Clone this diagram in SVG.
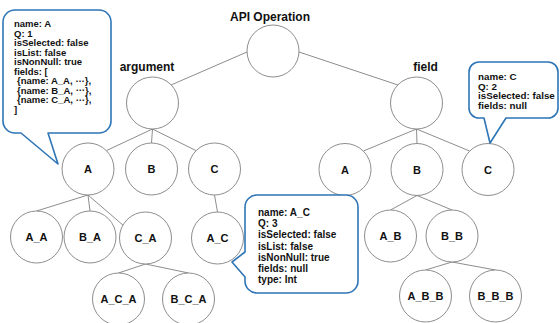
<svg xmlns="http://www.w3.org/2000/svg" width="560" height="323" viewBox="0 0 560 323">
<style>
.bg{fill:#ffffff}
.node circle{fill:#ffffff;stroke:#808080;stroke-width:0.9}
.node text{font-family:"Liberation Sans",Arial,sans-serif;font-weight:bold;font-size:11px;fill:#111;text-anchor:middle}
.title{font-family:"Liberation Sans",Arial,sans-serif;font-weight:bold;font-size:12px;fill:#111;text-anchor:middle}
#connectors line{stroke:#808080;stroke-width:0.9}
.callout path{fill:#ffffff;stroke:#2E75B6;stroke-width:1.6;stroke-linejoin:round}
.callout text{font-family:"Liberation Sans",Arial,sans-serif;font-weight:bold;font-size:9.5px;fill:#111}
#callout-A_C text{font-size:10px}
#callout-C text{font-size:9.8px}
</style>
<rect class="bg" x="0" y="0" width="560" height="323"/>

<g id="connectors">
<line x1="247" y1="52" x2="171" y2="85"/>
<line x1="299" y1="52" x2="398" y2="85"/>
<line x1="152.5" y1="129" x2="106.4" y2="150.6"/>
<line x1="152.5" y1="129" x2="151.5" y2="143"/>
<line x1="152.5" y1="129" x2="196" y2="150.6"/>
<line x1="416.5" y1="129" x2="363.4" y2="151"/>
<line x1="416.5" y1="129" x2="417" y2="143.5"/>
<line x1="416.5" y1="129" x2="469.6" y2="151"/>
<line x1="88" y1="195" x2="36.5" y2="211"/>
<line x1="88" y1="195" x2="90" y2="211"/>
<line x1="88" y1="195" x2="124" y2="226"/>
<line x1="214.5" y1="195" x2="217.5" y2="212"/>
<line x1="145.5" y1="264" x2="118.5" y2="273"/>
<line x1="145.5" y1="264" x2="188.5" y2="273"/>
<line x1="417" y1="195.5" x2="390.5" y2="210"/>
<line x1="417" y1="195.5" x2="452" y2="210"/>
<line x1="452" y1="262" x2="425.5" y2="270"/>
<line x1="452" y1="262" x2="495.5" y2="270"/>
</g>

<text class="title" x="270" y="21">API Operation</text>
<text class="title" x="147" y="71">argument</text>
<text class="title" x="425.5" y="71">field</text>

<g id="root" class="node"><circle cx="273" cy="51" r="26"/></g>
<g id="argument" class="node"><circle cx="152.5" cy="103" r="26"/></g>
<g id="field" class="node"><circle cx="416.5" cy="103" r="26"/></g>
<g id="arg-A" class="node"><circle cx="88" cy="169" r="26"/><text x="88" y="173">A</text></g>
<g id="arg-B" class="node"><circle cx="151.5" cy="169" r="26"/><text x="151.5" y="173">B</text></g>
<g id="arg-C" class="node"><circle cx="214.5" cy="169" r="26"/><text x="214.5" y="173">C</text></g>
<g id="arg-A_A" class="node"><circle cx="36.5" cy="237" r="26"/><text x="36.5" y="241">A_A</text></g>
<g id="arg-B_A" class="node"><circle cx="90" cy="237" r="26"/><text x="90" y="241">B_A</text></g>
<g id="arg-C_A" class="node"><circle cx="145.5" cy="238" r="26"/><text x="145.5" y="242">C_A</text></g>
<g id="arg-A_C" class="node"><circle cx="217.5" cy="238" r="26"/><text x="217.5" y="242">A_C</text></g>
<g id="arg-A_C_A" class="node"><circle cx="118.5" cy="299" r="26"/><text x="118.5" y="303">A_C_A</text></g>
<g id="arg-B_C_A" class="node"><circle cx="188.5" cy="299" r="26"/><text x="188.5" y="303">B_C_A</text></g>
<g id="field-A" class="node"><circle cx="345" cy="169.5" r="26"/><text x="345" y="173.5">A</text></g>
<g id="field-B" class="node"><circle cx="417" cy="169.5" r="26"/><text x="417" y="173.5">B</text></g>
<g id="field-C" class="node"><circle cx="488" cy="169.5" r="26"/><text x="488" y="173.5">C</text></g>
<g id="field-A_B" class="node"><circle cx="390.5" cy="236" r="26"/><text x="390.5" y="240">A_B</text></g>
<g id="field-B_B" class="node"><circle cx="452" cy="236" r="26"/><text x="452" y="240">B_B</text></g>
<g id="field-A_B_B" class="node"><circle cx="425.5" cy="296" r="26"/><text x="425.5" y="300">A_B_B</text></g>
<g id="field-B_B_B" class="node"><circle cx="495.5" cy="296" r="26"/><text x="495.5" y="300">B_B_B</text></g>

<g id="callout-A" class="callout">
<path d="M15,10 H99 A12,12 0 0 1 111,22 V121 A12,12 0 0 1 99,133 H48 L58,164 L21,133 H15 A12,12 0 0 1 3,121 V22 A12,12 0 0 1 15,10 Z"/>
<text x="14" y="27.3">name: A</text>
<text x="14" y="36.8">Q: 1</text>
<text x="14" y="46.3">isSelected: false</text>
<text x="14" y="55.8">isList: false</text>
<text x="14" y="65.3">isNonNull: true</text>
<text x="14" y="74.8">fields: [</text>
<text x="17" y="84.3">{name: A_A, <tspan dy="-2.5">…</tspan><tspan dy="2.5">},</tspan></text>
<text x="17" y="93.8">{name: B_A, <tspan dy="-2.5">…</tspan><tspan dy="2.5">},</tspan></text>
<text x="17" y="103.3">{name: C_A, <tspan dy="-2.5">…</tspan><tspan dy="2.5">},</tspan></text>
<text x="14" y="112.8">]</text>
</g>

<g id="callout-C" class="callout">
<path d="M479,62 H548 A10,10 0 0 1 558,72 V108 A10,10 0 0 1 548,118 H506 L490,143 L484,118 H479 A10,10 0 0 1 469,108 V72 A10,10 0 0 1 479,62 Z"/>
<text x="478" y="80">name: C</text>
<text x="478" y="89.7">Q: 2</text>
<text x="478" y="99.4">isSelected: false</text>
<text x="478" y="109.1">fields: null</text>
</g>

<g id="callout-A_C" class="callout">
<path d="M257,195 H346 A12,12 0 0 1 358,207 V281 A12,12 0 0 1 346,293 H257 A12,12 0 0 1 245,281 V277 L232,262 L245,252 V207 A12,12 0 0 1 257,195 Z"/>
<text x="258" y="216">name: A_C</text>
<text x="258" y="227.2">Q: 3</text>
<text x="258" y="238.4">isSelected: false</text>
<text x="258" y="249.6">isList: false</text>
<text x="258" y="260.8">isNonNull: true</text>
<text x="258" y="272">fields: null</text>
<text x="258" y="283.2">type: Int</text>
</g>
</svg>
